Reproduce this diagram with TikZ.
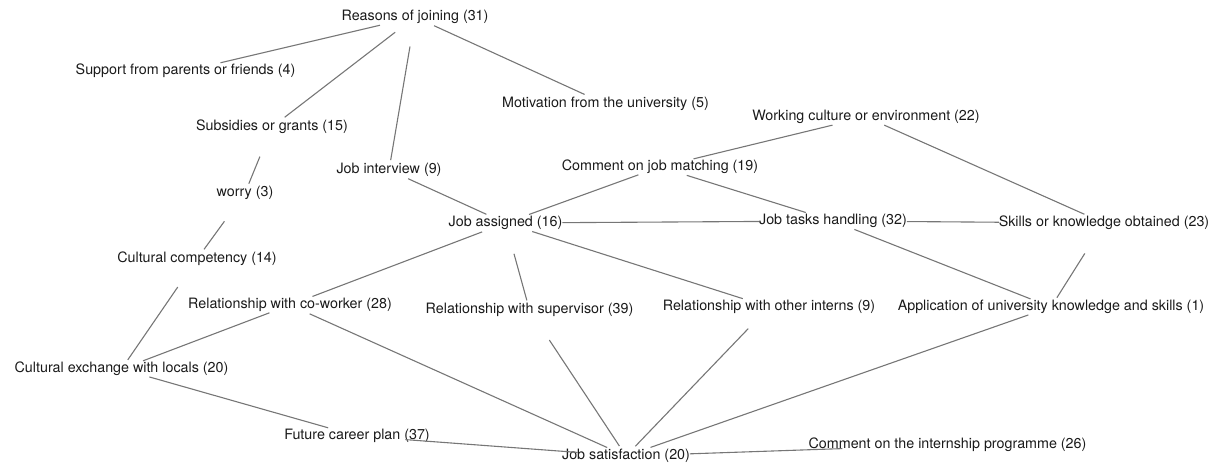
\documentclass[tikz,border=0pt]{standalone}
\usepackage{fontspec}
\setmainfont{TeX Gyre Heros}
\definecolor{linegray}{RGB}{118,118,118}
\definecolor{ink}{RGB}{26,26,26}
\begin{document}
\begin{tikzpicture}[x=1pt, y=-1pt,
  topic/.style={inner sep=0pt, outer sep=0pt, text=ink,
    font=\fontsize{14.3}{17}\selectfont, text height=0.72em, text depth=0pt},
  link/.style={draw=linegray, line width=1.1pt}]
\useasboundingbox (0,0) rectangle (1220,466);

% code labels
\node[topic] (reasons)      at (415,17)    {Reasons of joining (31)};
\node[topic] (support)      at (185.5,71)  {Support from parents or friends (4)};
\node[topic] (subsidies)    at (272,127)   {Subsidies or grants (15)};
\node[topic] (motivation)   at (605.5,104) {Motivation from the university (5)};
\node[topic] (culture)      at (866,117)   {Working culture or environment (22)};
\node[topic] (interview)    at (389,170)   {Job interview (9)};
\node[topic] (matching)     at (660,167)   {Comment on job matching (19)};
\node[topic] (worry)        at (245,193)   {worry (3)};
\node[topic] (assigned)     at (505.5,223) {Job assigned (16)};
\node[topic] (tasks)        at (833,221)   {Job tasks handling (32)};
\node[topic] (skills)       at (1104,223)  {Skills or knowledge obtained (23)};
\node[topic] (competency)   at (197,259)   {Cultural competency (14)};
\node[topic] (coworker)     at (290,305)   {Relationship with co-worker (28)};
\node[topic] (supervisor)   at (529.5,310) {Relationship with supervisor (39)};
\node[topic] (interns)      at (769,307)   {Relationship with other interns (9)};
\node[topic] (application)  at (1051,307)  {Application of university knowledge and skills (1)};
\node[topic] (exchange)     at (121.5,369) {Cultural exchange with locals (20)};
\node[topic] (career)       at (357,436)   {Future career plan (37)};
\node[topic] (programme)    at (947.5,445) {Comment on the internship programme (26)};
\node[topic] (satisfaction) at (626,456)   {Job satisfaction (20)};

% links between codes (centre to centre, trimmed)
\draw[link, shorten <=36pt, shorten >=36pt]   (reasons.center) -- (support.center);
\draw[link, shorten <=25pt, shorten >=16pt]   (reasons.center) -- (subsidies.center);
\draw[link, shorten <=30pt, shorten >=10pt]   (reasons.center) -- (interview.center);
\draw[link, shorten <=21pt, shorten >=23pt]   (reasons.center) -- (motivation.center);
\draw[link, shorten <=32pt, shorten >=10pt]   (subsidies.center) -- (worry.center);
\draw[link, shorten <=35pt, shorten >=12pt]   (worry.center) -- (competency.center);
\draw[link, shorten <=34pt, shorten >=11pt]   (competency.center) -- (exchange.center);
\draw[link, shorten <=21pt, shorten >=21pt]   (interview.center) -- (assigned.center);
\draw[link, shorten <=25pt, shorten >=23pt]   (assigned.center) -- (matching.center);
\draw[link]                                   (assigned) -- (tasks);
\draw[link, shorten <=25pt, shorten >=24pt]   (assigned.center) -- (coworker.center);
\draw[link, shorten <=32pt, shorten >=10pt]   (assigned.center) -- (supervisor.center);
\draw[link, shorten <=28pt, shorten >=27.5pt] (assigned.center) -- (interns.center);
\draw[link, shorten <=34.5pt, shorten >=34.5pt] (matching.center) -- (culture.center);
\draw[link, shorten <=28pt, shorten >=28.5pt] (matching.center) -- (tasks.center);
\draw[link, shorten <=20pt, shorten >=21.5pt] (culture.center) -- (skills.center);
\draw[link]                                   (tasks) -- (skills);
\draw[link, shorten <=23pt, shorten >=22pt]   (tasks.center) -- (application.center);
\draw[link, shorten <=36pt, shorten >=11pt]   (skills.center) -- (application.center);
\draw[link, shorten <=22pt, shorten >=23pt]   (coworker.center) -- (exchange.center);
\draw[link, shorten <=21.5pt, shorten >=20.6pt] (coworker.center) -- (satisfaction.center);
\draw[link, shorten <=29pt, shorten >=30pt]   (exchange.center) -- (career.center);
\draw[link]                                   (career) -- (satisfaction);
\draw[link, shorten <=36pt, shorten >=12pt]   (supervisor.center) -- (satisfaction.center);
\draw[link, shorten <=30pt, shorten >=13.5pt] (interns.center) -- (satisfaction.center);
\draw[link, shorten <=24pt, shorten >=26pt]   (application.center) -- (satisfaction.center);
\draw[link]                                   (satisfaction) -- (programme);
\end{tikzpicture}
\end{document}
